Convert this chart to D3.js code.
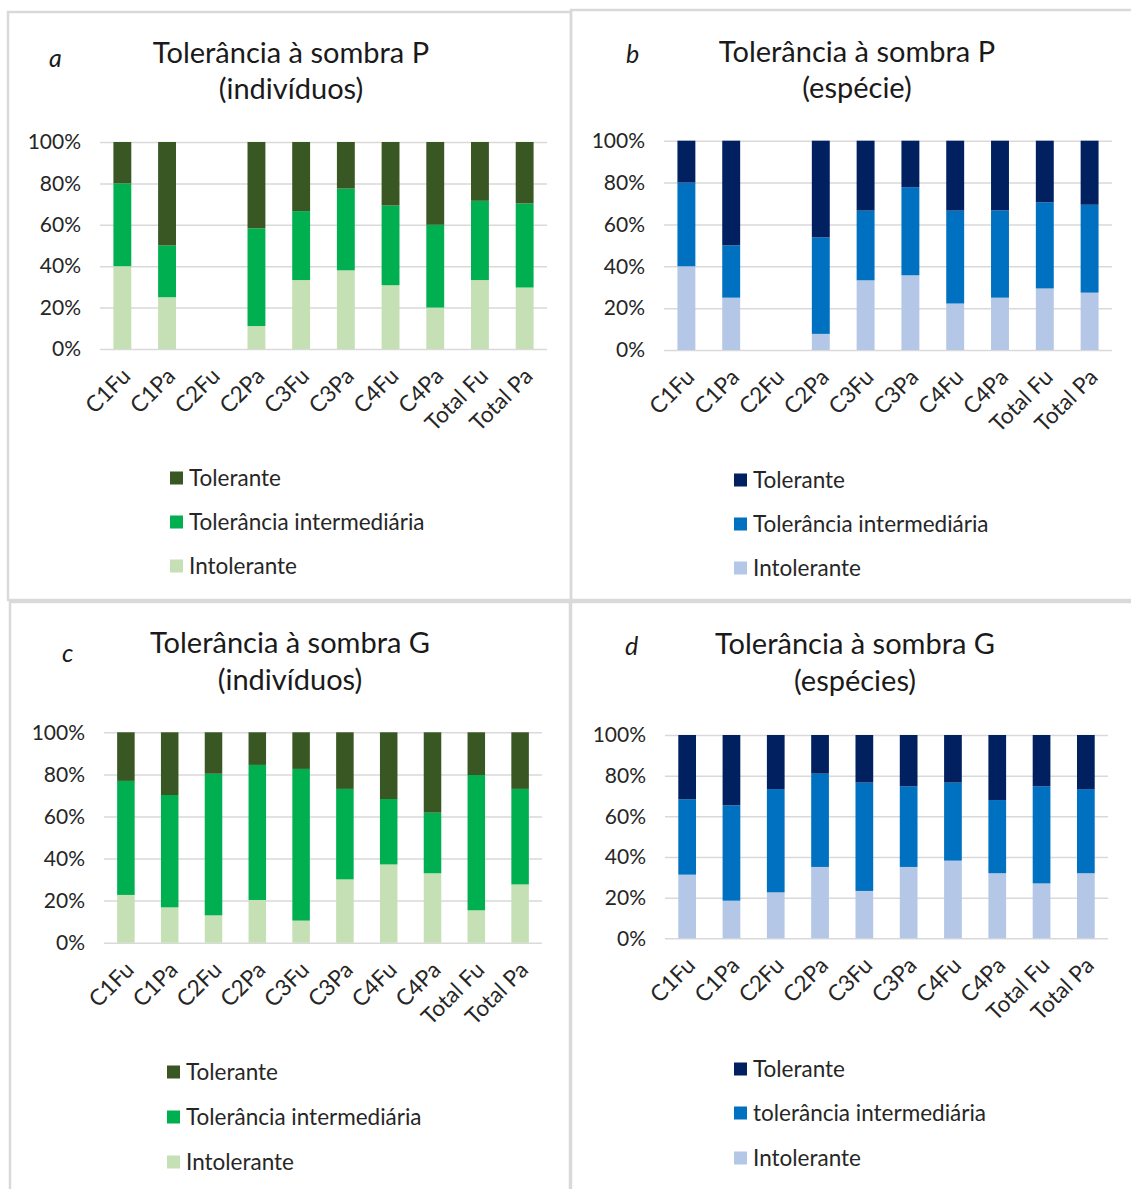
<!DOCTYPE html>
<html>
<head>
<meta charset="utf-8">
<script src="https://cdn.jsdelivr.net/npm/d3@7"></script>
<style>
  body { margin: 0; background: #fff; }
  text { font-family: Lato, "Open Sans", sans-serif; }
</style>
</head>
<body>
<svg id="chart" width="1131" height="1189"></svg>
<script>
// categorias e séries
const categories = ['C1Fu', 'C1Pa', 'C2Fu', 'C2Pa', 'C3Fu', 'C3Pa', 'C4Fu', 'C4Pa', 'Total Fu', 'Total Pa']
const yTicks = [0, 0.2, 0.4, 0.6, 0.8, 1]

// a - P (indivíduos)
const aIntolerante = [40, 25, 0, 11.1, 33.3, 38, 30.8, 20, 33.3, 29.7]
const aIntermediaria = [40, 25, 0, 47.2, 33.3, 39.5, 38.5, 40, 38.3, 40.6]
const aTolerante = [20, 50, 0, 41.7, 33.4, 22.5, 30.7, 40, 28.4, 29.7]

// b - P (espécie)
const bIntolerante = [40, 25, 0, 7.7, 33.3, 35.7, 22.2, 25, 29.4, 27.4]
const bIntermediaria = [40, 25, 0, 46.1, 33.3, 42.1, 44.4, 41.7, 41.2, 42]
const bTolerante = [20, 50, 0, 46.2, 33.4, 22.2, 33.4, 33.3, 29.4, 30.6]

// c - G (indivíduos)
const cIntolerante = [22.7, 16.8, 13, 20.3, 10.5, 30.1, 37.2, 33, 15.4, 27.7]
const cIntermediaria = [54.2, 53.4, 67.3, 64.2, 72.1, 43, 31.1, 28.8, 64.3, 45.4]
const cTolerante = [23.1, 29.8, 19.7, 15.5, 17.4, 26.9, 31.7, 38.2, 20.3, 26.9]

// d - G (espécies)
const dIntolerante = [31.3, 18.5, 22.6, 35.1, 23.3, 35.1, 38.2, 32, 27, 32]
const dIntermediaria = [37.1, 46.9, 50.8, 45.9, 53.3, 39.7, 38.4, 36, 47.8, 41.4]
const dTolerante = [31.6, 34.6, 26.6, 19, 23.4, 25.2, 23.4, 32, 25.2, 26.6]

const greens = ['#c5e0b4', '#00b050', '#385723']
const blues = ['#b4c7e7', '#0070c0', '#002060']

const panels = [
    {letter: 'a', title: ['Tolerância à sombra P', '(indivíduos)'], legend: ['Tolerante', 'Tolerância intermediária', 'Intolerante'],
     values: [aIntolerante, aIntermediaria, aTolerante], colors: greens,
     box: [8, 12, 563, 588], letterPos: [49, 67], titleX: 291, titleY: [63, 99],
     plot: [100, 547, 142, 349], legendX: 170, legendY: [478, 522, 566]},
    {letter: 'b', title: ['Tolerância à sombra P', '(espécie)'], legend: ['Tolerante', 'Tolerância intermediária', 'Intolerante'],
     values: [bIntolerante, bIntermediaria, bTolerante], colors: blues,
     box: [571, 10, 570, 590], letterPos: [626, 63], titleX: 857, titleY: [62, 98],
     plot: [664, 1112, 140.7, 350], legendX: 734, legendY: [480, 524, 568]},
    {letter: 'c', title: ['Tolerância à sombra G', '(indivíduos)'], legend: ['Tolerante', 'Tolerância intermediária', 'Intolerante'],
     values: [cIntolerante, cIntermediaria, cTolerante], colors: greens,
     box: [10, 602, 560, 600], letterPos: [62, 662], titleX: 290, titleY: [653, 690],
     plot: [104, 542, 732.3, 942.7], legendX: 167, legendY: [1072, 1117, 1162]},
    {letter: 'd', title: ['Tolerância à sombra G', '(espécies)'], legend: ['Tolerante', 'tolerância intermediária', 'Intolerante'],
     values: [dIntolerante, dIntermediaria, dTolerante], colors: blues,
     box: [571, 602, 570, 600], letterPos: [625, 655], titleX: 855, titleY: [654, 691],
     plot: [665, 1108, 735, 938.3], legendX: 734, legendY: [1069, 1113, 1158]}
]

const svg = d3.select('#chart')

// borders first
panels.forEach(p => {
    svg.append('rect')
        .attr('x', p.box[0]).attr('y', p.box[1])
        .attr('width', p.box[2]).attr('height', p.box[3])
        .attr('fill', 'none')
        .attr('stroke', '#d9d9d9')
        .attr('stroke-width', 2.5)
})

panels.forEach(p => drawPanel(p))

function drawPanel(p) {
    const g = svg.append('g')
    const [x0, x1, yTop, yBottom] = p.plot

    const rows = categories.map((c, i) => ({
        cat: c,
        s0: p.values[0][i],
        s1: p.values[1][i],
        s2: p.values[2][i]
    }))

    const stack = d3.stack().keys(['s0', 's1', 's2']).offset(d3.stackOffsetExpand)
    const series = stack(rows.map(r => {
        // empty categories stay empty
        const tot = r.s0 + r.s1 + r.s2
        return tot === 0 ? {cat: r.cat, s0: 0, s1: 0, s2: 0, empty: true} : r
    }))

    const x = d3.scaleBand()
        .domain(categories)
        .range([x0, x1])
        .paddingInner(0.6)
        .paddingOuter(0.3)

    const y = d3.scaleLinear()
        .domain([0, 1])
        .range([yBottom, yTop])

    // grid lines
    g.append('g')
        .attr('transform', `translate(${x0},0)`)
        .call(d3.axisLeft(y).tickValues(yTicks).tickSize(-(x1 - x0)).tickFormat(''))
        .call(a => a.select('.domain').remove())
        .call(a => a.selectAll('line').attr('stroke', '#d9d9d9').attr('stroke-width', 1.5))

    // y labels
    g.append('g')
        .attr('transform', `translate(${x0 - 19},0)`)
        .call(d3.axisLeft(y).tickValues(yTicks).tickSize(0).tickFormat(d3.format('.0%')))
        .call(a => a.select('.domain').remove())
        .call(a => a.selectAll('text')
            .attr('fill', '#262626')
            .style('font-size', '21px')
            .attr('x', 0))

    // bars
    g.selectAll('g.series')
        .data(series)
        .enter().append('g')
        .attr('class', 'series')
        .attr('fill', (d, i) => p.colors[i])
        .selectAll('rect')
        .data(d => d.filter(v => !v.data.empty))
        .enter().append('rect')
        .attr('x', d => x(d.data.cat))
        .attr('width', x.bandwidth())
        .attr('y', d => y(d[1]))
        .attr('height', d => y(d[0]) - y(d[1]))

    // x labels
    g.append('g')
        .attr('transform', `translate(0,${yBottom})`)
        .call(d3.axisBottom(x).tickSize(0))
        .call(a => a.select('.domain').remove())
        .call(a => a.selectAll('text')
            .attr('fill', '#262626')
            .style('font-size', '22.5px')
            .style('text-anchor', 'end')
            .attr('y', 0)
            .attr('dy', '0.35em')
            .attr('transform', 'translate(4,23) rotate(-45)'))

    // title
    const title = g.append('text')
        .attr('text-anchor', 'middle')
        .attr('fill', '#1a1a1a')
        .style('font-size', '29px')
    p.title.forEach((t, i) => {
        title.append('tspan')
            .attr('x', p.titleX)
            .attr('y', p.titleY[i])
            .text(t)
    })

    g.append('text')
        .attr('x', p.letterPos[0])
        .attr('y', p.letterPos[1])
        .attr('fill', '#1a1a1a')
        .style('font-size', '25px')
        .style('font-style', 'italic')
        .text(p.letter)

    // legend, Tolerante on top
    const legendColors = [p.colors[2], p.colors[1], p.colors[0]]
    const leg = g.selectAll('g.legend')
        .data(p.legend)
        .enter().append('g')
        .attr('class', 'legend')
        .attr('transform', (d, i) => `translate(${p.legendX},${p.legendY[i]})`)
    leg.append('rect')
        .attr('x', 0).attr('y', -6.5)
        .attr('width', 13).attr('height', 13)
        .attr('fill', (d, i) => legendColors[i])
    leg.append('text')
        .attr('x', 19)
        .attr('dy', '0.35em')
        .attr('fill', '#262626')
        .style('font-size', '22.5px')
        .text(d => d)
}
</script>
</body>
</html>
